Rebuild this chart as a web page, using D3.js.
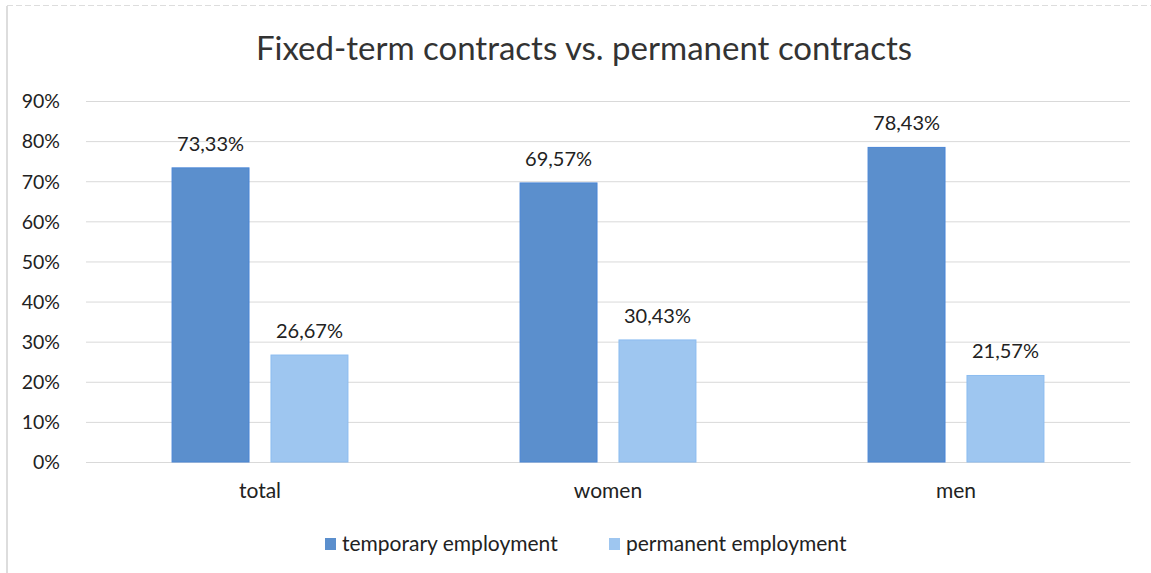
<!DOCTYPE html>
<html>
<head>
<meta charset="UTF-8" />
<title></title>
<script src="https://cdn.jsdelivr.net/npm/d3@7"></script>
<style>
    body { margin: 0; background: #fff; }
    svg text { font-family: Lato, "Open Sans", sans-serif; fill: #222; }
</style>
</head>
<body>
<svg id="chart" width="1151" height="573"></svg>
<script>
    // data
    var categories = ["total", "women", "men"];
    var seriesNames = ["temporary employment", "permanent employment"];
    var temporary = [73.33, 69.57, 78.43];
    var permanent = [26.67, 30.43, 21.57];
    var yTicks = [0, 10, 20, 30, 40, 50, 60, 70, 80, 90];
    var colors = ["#5b8fcd", "#9ec6f0"];
    var strokes = ["#4a86d6", "#8cbcf0"];

    var svg = d3.select("#chart");
    var margin = { left: 86, right: 21, top: 101, bottom: 111 };
    var W = 1151, H = 573;

    // frame
    svg.append("line").attr("x1", 7).attr("x2", 7).attr("y1", 6).attr("y2", 573)
        .attr("stroke", "#bbb").attr("stroke-width", 1);
    svg.append("line").attr("x1", 7).attr("x2", 1151).attr("y1", 5.5).attr("y2", 5.5)
        .attr("stroke", "#ddd").attr("stroke-dasharray", "6,3");

    var x = d3.scaleBand().domain(categories).range([margin.left, W - margin.right]);
    var y = d3.scaleLinear().domain([0, 90]).range([H - margin.bottom, margin.top]);
    var x1 = d3.scaleBand().domain(seriesNames).range([0, x.bandwidth()]).paddingInner(0.222).paddingOuter(0.87);

    // gridlines
    svg.append("g").selectAll("line").data(yTicks).enter().append("line")
        .attr("x1", margin.left).attr("x2", W - margin.right)
        .attr("y1", function (d) { return y(d) + 0.5; }).attr("y2", function (d) { return y(d) + 0.5; })
        .attr("stroke", "#d9d9d9").attr("stroke-width", 1);

    // y axis
    var yAxis = svg.append("g").attr("transform", "translate(" + (margin.left - 23) + ",0)")
        .call(d3.axisLeft(y).tickValues(yTicks).tickSize(0).tickFormat(function (d) { return d + "%"; }));
    yAxis.select(".domain").remove();
    yAxis.selectAll("text").style("font-size", "19.5px").attr("dy", "0.35em");

    // x axis
    var xAxis = svg.append("g").attr("transform", "translate(0," + (H - margin.bottom) + ")")
        .call(d3.axisBottom(x).tickSize(0).tickPadding(21));
    xAxis.select(".domain").attr("stroke", "#d9d9d9");
    xAxis.selectAll("text").style("font-size", "21px");

    var rows = categories.map(function (c, i) {
        return { cat: c, vals: [temporary[i], permanent[i]] };
    });

    var groups = svg.append("g").selectAll("g").data(rows).enter().append("g")
        .attr("transform", function (d) { return "translate(" + x(d.cat) + ",0)"; });

    groups.selectAll("rect").data(function (d) {
        return d.vals.map(function (v, j) { return { s: seriesNames[j], v: v, j: j }; });
    }).enter().append("rect")
        .attr("x", function (d) { return x1(d.s); })
        .attr("width", x1.bandwidth())
        .attr("y", function (d) { return y(d.v); })
        .attr("height", function (d) { return y(0) - y(d.v); })
        .attr("fill", function (d) { return colors[d.j]; })
        .attr("stroke", function (d) { return strokes[d.j]; })
        .attr("stroke-width", 1);

    groups.selectAll("text.lbl").data(function (d) {
        return d.vals.map(function (v, j) { return { s: seriesNames[j], v: v, j: j }; });
    }).enter().append("text").attr("class", "lbl")
        .attr("x", function (d) { return x1(d.s) + x1.bandwidth() / 2; })
        .attr("y", function (d) { return y(d.v) - 17; })
        .attr("text-anchor", "middle")
        .style("font-size", "20px")
        .text(function (d) { return d.v.toFixed(2).replace(".", ",") + "%"; });

    // title
    svg.append("text").attr("x", 584).attr("y", 60).attr("text-anchor", "middle")
        .style("font-size", "33px").style("fill", "#333")
        .text("Fixed-term contracts vs. permanent contracts");

    // legend
    var legend = svg.append("g").attr("transform", "translate(325,544)");
    var lx = [0, 284];
    seriesNames.forEach(function (s, i) {
        legend.append("rect").attr("x", lx[i]).attr("y", -6).attr("width", 11).attr("height", 12)
            .attr("fill", colors[i]);
        legend.append("text").attr("x", lx[i] + 17).attr("y", 0).attr("dy", "0.35em")
            .style("font-size", "21px").text(s);
    });
</script>
</body>
</html>
